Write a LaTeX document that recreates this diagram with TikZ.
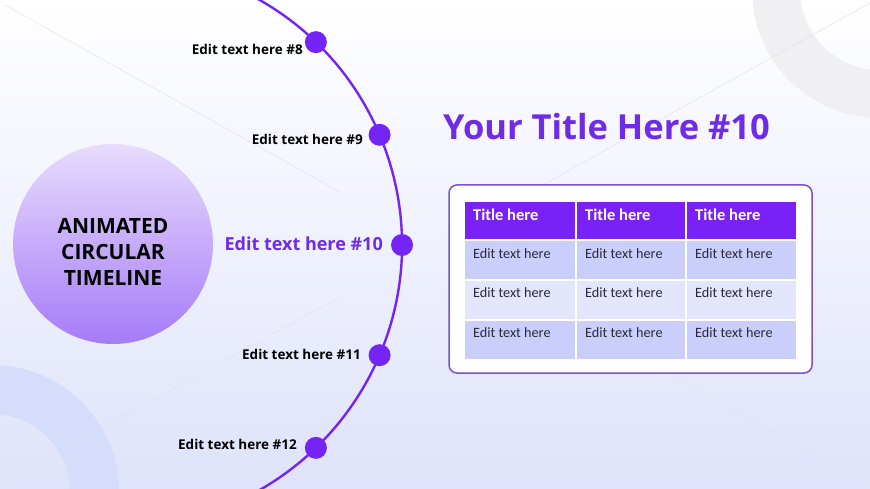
\documentclass[tikz,border=0pt]{standalone}
\usepackage{fontspec}
\setmainfont{Open Sans}
\newfontfamily\calib{Carlito}
\usetikzlibrary{calc}
\definecolor{vio}{HTML}{7424F5}
\definecolor{hdr}{HTML}{7A22F6}
\definecolor{titlevio}{HTML}{6F2BE6}
\definecolor{bgbot}{HTML}{DFE3FB}
\definecolor{ringgray}{HTML}{F0F0F3}
\definecolor{ringblue}{HTML}{D6DDFB}
\definecolor{rowdark}{HTML}{CACEFA}
\definecolor{rowlight}{HTML}{E3E5FC}
\definecolor{boxcol}{HTML}{7E4FCC}
\definecolor{circtop}{HTML}{E7DCFD}
\definecolor{circbot}{HTML}{A67BF8}
\definecolor{bodytext}{HTML}{2A2A3C}
\definecolor{faintline}{HTML}{E2E2EA}
\tikzset{
  dot/.style={circle, fill=vio, minimum size=22pt, inner sep=0pt},
  lab/.style={anchor=east, inner sep=0pt, font=\bfseries\fontsize{13.5}{16}\selectfont, text=black},
  faint/.style={draw=faintline, line width=0.5pt},
  hdrtext/.style={anchor=west, inner sep=0pt, text=white, font=\calib\bfseries\fontsize{16.5}{19}\selectfont},
  celltext/.style={anchor=west, inner sep=0pt, text=bodytext, font=\calib\fontsize{14.2}{17}\selectfont}
}
\begin{document}
\begin{tikzpicture}[x=1pt,y=-1pt]
\useasboundingbox (0,0) rectangle (870,489);
\shade[top color=white, bottom color=bgbot] (0,0) rectangle (870,489);
\begin{scope}
\clip (0,0) rectangle (870,489);
\fill[ringgray, even odd rule] (880,-10) circle[radius=128pt] (880,-10) circle[radius=80pt];
\fill[ringblue, even odd rule] (-8,492) circle[radius=127pt] (-8,492) circle[radius=78pt];
\draw[faint] (5,5) -- (340,192);
\draw[faint] (0,484) -- (340,297);
\draw[faint] (530,192) -- (870,3);
\draw[faint] (535,301) -- (870,484);
% timeline arc
\coordinate (c) at (120,245);
\draw[vio, line width=2.4pt] ($(c)+(64:282pt)$) arc[start angle=64, end angle=-64, radius=282pt];
\end{scope}
% dots
\node[dot] (d8) at ($(c)+(46:282pt)$) {};
\node[dot] (d9) at ($(c)+(23:282pt)$) {};
\node[dot] (d10) at ($(c)+(0:282pt)$) {};
\node[dot] (d11) at ($(c)+(-23:282pt)$) {};
\node[dot] (d12) at ($(c)+(-46:282pt)$) {};
% labels
\node[lab] (l8) at (303,49) {Edit text here \#8};
\node[lab] (l9) at (363,139) {Edit text here \#9};
\node[lab, text=titlevio, font=\bfseries\fontsize{18}{21}\selectfont] (l10) at (383,244) {Edit text here \#10};
\node[lab] (l11) at (361,354) {Edit text here \#11};
\node[lab] (l12) at (297,444) {Edit text here \#12};
% main circle
\node[circle, minimum size=200pt, inner sep=0pt, top color=circtop, bottom color=circbot] (mc) at (113,244) {};
\node[align=center, inner sep=0pt, font=\bfseries\fontsize{21}{26}\selectfont, text=black] (mct) at (113,252) {ANIMATED\\CIRCULAR\\TIMELINE};
% title
\node[anchor=west, inner sep=0pt, text=titlevio, font=\bfseries\fontsize{34.5}{40}\selectfont] (title) at (443,127) {Your Title Here \#10};
% box
\draw[boxcol, line width=1.5pt, fill=white, rounded corners=8pt] (449,185) rectangle (812,373);
% table
\foreach \i/\xa/\xb in {1/465/575,2/577/685,3/687/796}{
  \fill[hdr] (\xa,202) rectangle (\xb,239);
  \fill[rowdark] (\xa,241) rectangle (\xb,279);
  \fill[rowlight] (\xa,281) rectangle (\xb,319);
  \fill[rowdark] (\xa,321) rectangle (\xb,359);
  \node[hdrtext] (h\i) at (\xa+8,215) {Title here};
  \node[celltext] (ra\i) at (\xa+8,254) {Edit text here};
  \node[celltext] (rb\i) at (\xa+8,293) {Edit text here};
  \node[celltext] (rc\i) at (\xa+8,333) {Edit text here};
}
\end{tikzpicture}
\end{document}
